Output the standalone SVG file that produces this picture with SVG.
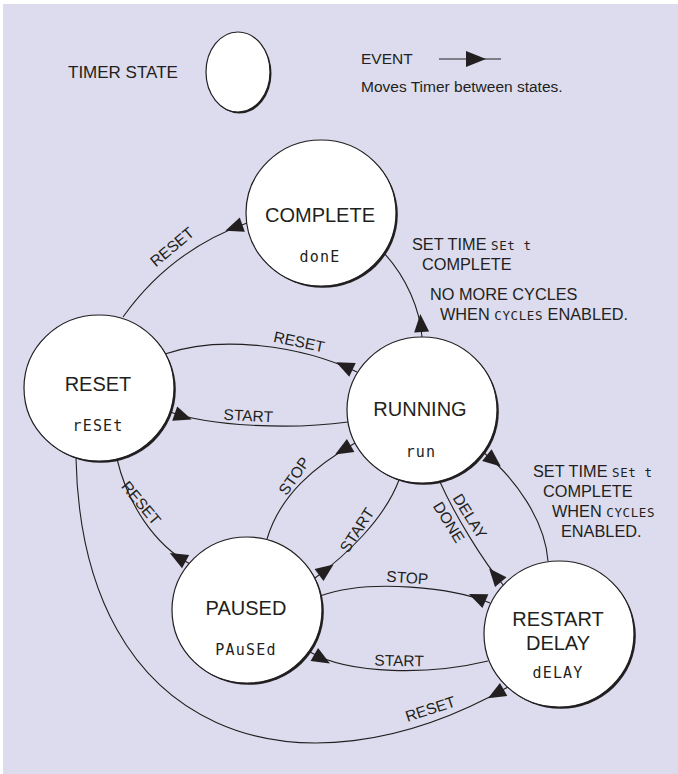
<svg xmlns="http://www.w3.org/2000/svg" width="678" height="774" viewBox="0 0 678 774">
  <defs>
    <style>
      .bg{fill:#dcdcee}
      .shade{fill:#231f20}
      .node{fill:#ffffff;stroke:#231f20;stroke-width:1.2}
      .name{font-family:"Liberation Sans",Arial,Helvetica,sans-serif;font-size:20px;fill:#231f20;text-anchor:middle}
      .lcd{font-family:"DejaVu Sans Mono","Liberation Mono",monospace;font-size:15px;letter-spacing:1.2px;fill:#231f20;text-anchor:middle}
      .lcd-s{font-family:"DejaVu Sans Mono","Liberation Mono",monospace;font-size:12.5px;letter-spacing:0.6px}
      .lbl{font-family:"Liberation Sans",Arial,Helvetica,sans-serif;font-size:15.5px;fill:#231f20}
      .cond{font-size:16.3px}
      .key{font-size:17px}
      .mid{text-anchor:middle}
      .edge{fill:none;stroke:#231f20;stroke-width:1.1;marker-start:url(#evt)}
    </style>
    <!-- arrowhead placed just after the source state, pointing along the event -->
    <marker id="evt" markerUnits="userSpaceOnUse" orient="auto" refX="0" refY="0" markerWidth="30" markerHeight="30" overflow="visible">
      <path d="M5,-7.5 L23,0 L5,7.5 z" fill="#231f20"/>
    </marker>
    <!-- arrowhead for the legend sample, tip on the vertex -->
    <marker id="evtKey" markerUnits="userSpaceOnUse" orient="auto" refX="0" refY="0" markerWidth="30" markerHeight="30" overflow="visible">
      <path d="M-20,-8 L0,0 L-20,8 z" fill="#231f20"/>
    </marker>
  </defs>

  <rect class="bg" x="3" y="4" width="675" height="770"/>

  <!-- legend -->
  <g id="legend">
    <text class="lbl key" x="68" y="78">TIMER STATE</text>
    <ellipse class="shade" cx="239.5" cy="73.5" rx="32" ry="40"/>
    <ellipse class="node" cx="238" cy="72" rx="32" ry="40"/>
    <text class="lbl" x="361" y="64">EVENT</text>
    <path d="M439,59 L486,59 L501,59" fill="none" stroke="#231f20" stroke-width="1.1" marker-mid="url(#evtKey)"/>
    <text class="lbl" x="361" y="92">Moves Timer between states.</text>
  </g>

  <!-- events -->
  <g id="connectors">
    <g id="e-complete-reset">
      <path class="edge" d="M247,223 C205,238 160,265 123,317"/>
      <text class="lbl mid" transform="translate(175.5,251) rotate(-40)">RESET</text>
    </g>
    <g id="e-running-complete">
      <path class="edge" d="M422,337 C420,310 407,278 384,253"/>
      <text class="lbl cond" x="412" y="250">SET TIME <tspan class="lcd-s">SEt t</tspan></text>
      <text class="lbl cond" x="422" y="270">COMPLETE</text>
      <text class="lbl cond" x="430" y="300">NO MORE CYCLES</text>
      <text class="lbl cond" x="440" y="320">WHEN <tspan class="lcd-s">CYCLES</tspan> ENABLED.</text>
    </g>
    <g id="e-running-reset">
      <path class="edge" d="M357,372 C300,345 220,335 165,354"/>
      <text class="lbl mid" transform="translate(298,347) rotate(12)">RESET</text>
    </g>
    <g id="e-reset-running">
      <path class="edge" d="M170,412 C210,426 290,430 348,422"/>
      <text class="lbl mid" transform="translate(248,421) rotate(3)">START</text>
    </g>
    <g id="e-paused-reset">
      <path class="edge" d="M190,564 C155,545 128,505 117,459"/>
      <text class="lbl mid" transform="translate(137,506.5) rotate(50)">RESET</text>
    </g>
    <g id="e-running-paused">
      <path class="edge" d="M355,443 C315,466 280,495 267,539"/>
      <text class="lbl mid" transform="translate(298.5,479) rotate(-55)">STOP</text>
    </g>
    <g id="e-paused-running">
      <path class="edge" d="M315,578 C345,556 384,520 399,480"/>
      <text class="lbl mid" transform="translate(361.5,533) rotate(-57)">START</text>
    </g>
    <g id="e-delay-running">
      <path class="edge" d="M504,586 C482,560 455,515 440,482"/>
      <text class="lbl mid" transform="translate(460,520) rotate(58)"><tspan x="2" y="-5">DELAY</tspan><tspan x="-4" y="16">DONE</tspan></text>
    </g>
    <g id="e-running-delay">
      <path class="edge" d="M483,452 C515,478 545,520 548,561"/>
      <text class="lbl cond" x="533" y="477">SET TIME <tspan class="lcd-s">SEt t</tspan></text>
      <text class="lbl cond" x="543" y="497">COMPLETE</text>
      <text class="lbl cond" x="552" y="517">WHEN <tspan class="lcd-s">CYCLES</tspan></text>
      <text class="lbl cond" x="561" y="537">ENABLED.</text>
    </g>
    <g id="e-delay-paused">
      <path class="edge" d="M490,603 C455,588 370,578 320,596"/>
      <text class="lbl mid" transform="translate(407,583) rotate(4)">STOP</text>
    </g>
    <g id="e-paused-delay">
      <path class="edge" d="M310,652 C350,675 430,675 488,661"/>
      <text class="lbl mid" transform="translate(399,666) rotate(1)">START</text>
    </g>
    <g id="e-delay-reset">
      <path class="edge" d="M508,687 C300,805 82,740 76,458"/>
      <text class="lbl mid" transform="translate(432,714) rotate(-18)">RESET</text>
    </g>
  </g>

  <!-- states -->
  <g id="complete">
    <ellipse class="shade" cx="322.8" cy="214.8" rx="75" ry="73"/>
    <ellipse class="node" cx="321" cy="213" rx="75" ry="73"/>
    <text class="name" x="320" y="222">COMPLETE</text>
    <text class="lcd" x="320" y="262">donE</text>
  </g>
  <g id="reset">
    <ellipse class="shade" cx="100.8" cy="389.8" rx="75" ry="73"/>
    <ellipse class="node" cx="99" cy="388" rx="75" ry="73"/>
    <text class="name" x="98" y="391">RESET</text>
    <text class="lcd" x="98" y="431">rESEt</text>
  </g>
  <g id="running">
    <ellipse class="shade" cx="423.8" cy="411.8" rx="75" ry="73"/>
    <ellipse class="node" cx="422" cy="410" rx="75" ry="73"/>
    <text class="name" x="420" y="416">RUNNING</text>
    <text class="lcd" x="421" y="457">run</text>
  </g>
  <g id="paused">
    <ellipse class="shade" cx="248.8" cy="611.8" rx="75" ry="73"/>
    <ellipse class="node" cx="247" cy="610" rx="75" ry="73"/>
    <text class="name" x="246" y="615">PAUSED</text>
    <text class="lcd" x="246" y="655">PAuSEd</text>
  </g>
  <g id="restart-delay">
    <ellipse class="shade" cx="560.8" cy="635.8" rx="75" ry="73"/>
    <ellipse class="node" cx="559" cy="634" rx="75" ry="73"/>
    <text class="name" x="558" y="626">RESTART</text>
    <text class="name" x="558" y="650">DELAY</text>
    <text class="lcd" x="558" y="678">dELAY</text>
  </g>
</svg>
